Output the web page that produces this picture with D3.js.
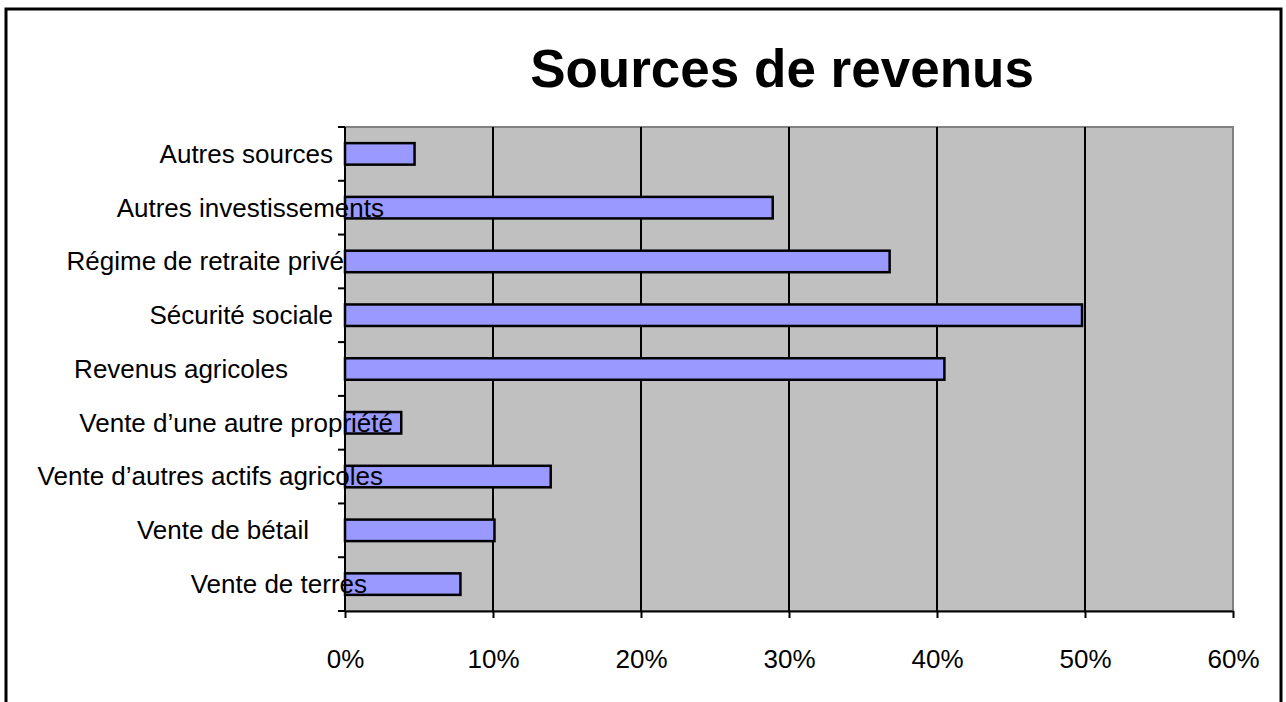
<!DOCTYPE html>
<html>
<head>
<meta charset="utf-8">
<script src="https://cdn.jsdelivr.net/npm/d3@7"></script>
<style>
  html, body { margin: 0; padding: 0; background: #ffffff; }
  svg { display: block; font-family: Arial, "Liberation Sans", sans-serif; }
</style>
</head>
<body>
<svg id="chart" width="1286" height="702"></svg>
<script>
// Categories, top to bottom
const categories = [
  "Autres sources",
  "Autres investissements",
  "Régime de retraite privé",
  "Sécurité sociale",
  "Revenus agricoles",
  "Vente d\u2019une autre propriété",
  "Vente d\u2019autres actifs agricoles",
  "Vente de bétail",
  "Vente de terres"
];
// Share of respondents (fraction)
const shares = [0.047, 0.289, 0.368, 0.498, 0.405, 0.038, 0.139, 0.101, 0.078];
const xTicks = [0, 0.1, 0.2, 0.3, 0.4, 0.5, 0.6];
const title = "Sources de revenus";

// Right edge of each free-floating category label (px)
const labelRightEdge = [333, 384, 344, 333, 288, 393, 383, 309, 367];

const svg = d3.select("#chart");
const plot = { left: 345, right: 1233, top: 127, bottom: 611 };

// Outer frame
svg.append("rect")
  .attr("x", 6).attr("y", 9)
  .attr("width", 1275).attr("height", 720)
  .attr("fill", "#ffffff").attr("stroke", "#000").attr("stroke-width", 3);

// Title
svg.append("text")
  .attr("x", 782).attr("y", 87)
  .attr("text-anchor", "middle")
  .attr("font-size", 53).attr("font-weight", "bold")
  .attr("fill", "#000")
  .text(title);

const x = d3.scaleLinear().domain([0, 0.6]).range([plot.left, plot.right]);
const y = d3.scaleBand().domain(categories).range([plot.top, plot.bottom]).paddingInner(0.6).paddingOuter(0.3);

// Plot area background
svg.append("rect")
  .attr("x", plot.left).attr("y", plot.top)
  .attr("width", plot.right - plot.left).attr("height", plot.bottom - plot.top)
  .attr("fill", "#c0c0c0").attr("stroke", "#808080").attr("stroke-width", 2);

// Vertical gridlines
svg.append("g").selectAll("line")
  .data(xTicks.slice(1, -1))
  .join("line")
  .attr("x1", d => x(d)).attr("x2", d => x(d))
  .attr("y1", plot.top).attr("y2", plot.bottom)
  .attr("stroke", "#000").attr("stroke-width", 2);

// Bars
svg.append("g").selectAll("rect")
  .data(categories)
  .join("rect")
  .attr("x", x(0))
  .attr("y", d => y(d))
  .attr("width", (d, i) => x(shares[i]) - x(0))
  .attr("height", y.bandwidth())
  .attr("fill", "#9999ff")
  .attr("stroke", "#000").attr("stroke-width", 2.5);

// Bottom axis
const xAxis = d3.axisBottom(x)
  .tickValues(xTicks)
  .tickFormat(d3.format(".0%"))
  .tickSize(7).tickSizeOuter(0).tickPadding(32);
const gx = svg.append("g").attr("transform", `translate(0,${plot.bottom})`).call(xAxis);
gx.select(".domain").attr("stroke", "#000").attr("stroke-width", 2);
gx.selectAll(".tick line").attr("stroke", "#000").attr("stroke-width", 2);
gx.selectAll(".tick text").attr("font-size", 26).attr("fill", "#000")
  .attr("font-family", "Arial, 'Liberation Sans', sans-serif");

// Left axis: ticks at category boundaries
const boundaries = d3.range(categories.length + 1).map(i => plot.top + i * (plot.bottom - plot.top) / categories.length);
svg.append("line")
  .attr("x1", plot.left).attr("x2", plot.left)
  .attr("y1", plot.top).attr("y2", plot.bottom)
  .attr("stroke", "#000").attr("stroke-width", 2);
svg.append("g").selectAll("line")
  .data(boundaries)
  .join("line")
  .attr("x1", plot.left - 7).attr("x2", plot.left)
  .attr("y1", d => d).attr("y2", d => d)
  .attr("stroke", "#000").attr("stroke-width", 2);

// Category labels
svg.append("g").selectAll("text")
  .data(categories)
  .join("text")
  .attr("x", (d, i) => labelRightEdge[i])
  .attr("y", d => y(d) + y.bandwidth() / 2)
  .attr("dy", "0.34em")
  .attr("text-anchor", "end")
  .attr("font-size", 26)
  .attr("fill", "#000")
  .text(d => d);
</script>
</body>
</html>
